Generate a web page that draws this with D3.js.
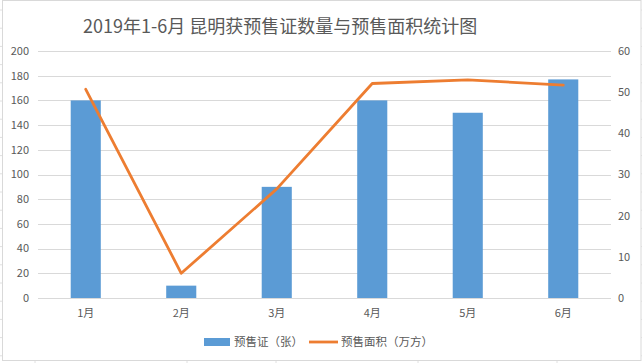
<!DOCTYPE html>
<html>
<head>
<meta charset="utf-8">
<title>2019年1-6月昆明获预售证数量与预售面积统计图</title>
<script src="https://d3js.org/d3.v7.min.js"></script>
<style>
  body { margin: 0; background: #fff; }
  text { font-family: "Noto Sans CJK SC", "Noto Sans", sans-serif; fill: #595959; }
</style>
</head>
<body>
<svg width="642" height="363"></svg>
<script>
    const months = ["1月", "2月", "3月", "4月", "5月", "6月"];
    const permits = [160, 10, 90, 160, 150, 177];          // 预售证（张）
    const area = [50.7, 6.0, 26.5, 52.1, 53.0, 51.7];      // 预售面积（万方）
    const leftTicks = [0, 20, 40, 60, 80, 100, 120, 140, 160, 180, 200];
    const rightTicks = [0, 10, 20, 30, 40, 50, 60];

    const blue = "#5b9bd5";
    const orange = "#ed7d31";
    const grid = "#d9d9d9";

    const svg = d3.select("svg");

    // spreadsheet cell lines peeking out around the chart frame
    const cells = svg.append("g").attr("stroke", "#e0e0e0");
    for (let y = 10; y < 363; y += 18.2) {
        cells.append("line").attr("x1", 0).attr("x2", 2).attr("y1", y).attr("y2", y);
        cells.append("line").attr("x1", 641).attr("x2", 642).attr("y1", y).attr("y2", y);
    }
    [35, 187, 276, 418, 557].forEach(x => {
        cells.append("line").attr("x1", x).attr("x2", x).attr("y1", 361).attr("y2", 363);
    });

    // chart frame
    svg.append("rect")
        .attr("x", 2.5).attr("y", 0.5)
        .attr("width", 638.5).attr("height", 360)
        .attr("fill", "#fff")
        .attr("stroke", grid);

    const x = d3.scaleBand().domain(months).range([38, 611]).padding(0);
    const yL = d3.scaleLinear().domain([0, 200]).range([298, 51]);
    const yR = d3.scaleLinear().domain([0, 60]).range([298, 51]);

    // gridlines
    svg.append("g").selectAll("line")
        .data(leftTicks)
        .enter().append("line")
        .attr("x1", 38).attr("x2", 611)
        .attr("y1", d => Math.round(yL(d)) + 0.5)
        .attr("y2", d => Math.round(yL(d)) + 0.5)
        .attr("stroke", grid);

    // left axis labels
    svg.append("g").selectAll("text")
        .data(leftTicks)
        .enter().append("text")
        .attr("x", 29)
        .attr("y", d => yL(d))
        .attr("dy", "0.35em")
        .attr("text-anchor", "end")
        .style("font-size", "11px")
        .text(d => d);

    // right axis labels
    svg.append("g").selectAll("text")
        .data(rightTicks)
        .enter().append("text")
        .attr("x", 618)
        .attr("y", d => yR(d))
        .attr("dy", "0.35em")
        .style("font-size", "11px")
        .text(d => d);

    // category labels
    svg.append("g").selectAll("text")
        .data(months)
        .enter().append("text")
        .attr("x", d => x(d) + x.bandwidth() / 2)
        .attr("y", 317)
        .attr("text-anchor", "middle")
        .style("font-size", "11px")
        .text(d => d);

    // bars
    const bw = x.bandwidth() * 0.315;
    svg.append("g").selectAll("rect")
        .data(permits)
        .enter().append("rect")
        .attr("x", (d, i) => x(months[i]) + x.bandwidth() / 2 - bw / 2)
        .attr("y", d => yL(d))
        .attr("width", bw)
        .attr("height", d => yL(0) - yL(d))
        .attr("fill", blue);

    // line
    const line = d3.line()
        .x((d, i) => x(months[i]) + x.bandwidth() / 2)
        .y(d => yR(d));

    svg.append("path")
        .datum(area)
        .attr("d", line)
        .attr("fill", "none")
        .attr("stroke", orange)
        .attr("stroke-width", 2.8)
        .attr("stroke-linejoin", "round")
        .attr("stroke-linecap", "round");

    // title
    svg.append("text")
        .attr("x", 83)
        .attr("y", 33)
        .style("font-size", "18px")
        .text("2019年1-6月 昆明获预售证数量与预售面积统计图");

    // legend
    const lg = svg.append("g");
    lg.append("rect")
        .attr("x", 204).attr("y", 338)
        .attr("width", 26).attr("height", 8)
        .attr("fill", blue);
    lg.append("text")
        .attr("x", 234).attr("y", 342)
        .attr("dy", "0.35em")
        .style("font-size", "11.5px")
        .text("预售证（张）");
    lg.append("line")
        .attr("x1", 309).attr("x2", 338)
        .attr("y1", 342).attr("y2", 342)
        .attr("stroke", orange)
        .attr("stroke-width", 2.8);
    lg.append("text")
        .attr("x", 341).attr("y", 342)
        .attr("dy", "0.35em")
        .style("font-size", "11.5px")
        .text("预售面积（万方）");
</script>
</body>
</html>
